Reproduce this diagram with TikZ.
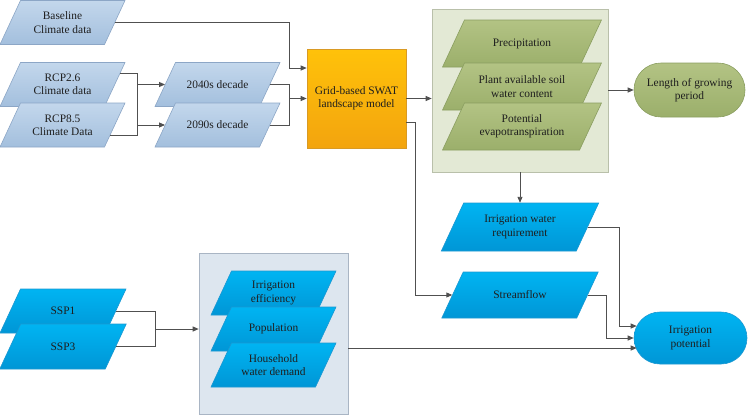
\documentclass[tikz,border=0pt]{standalone}
\usepackage{fontspec}
\setmainfont{Liberation Serif}
\newfontfamily\tnr{Liberation Serif}
\usetikzlibrary{arrows.meta,calc}
\definecolor{clT}{HTML}{C3D7EC}
\definecolor{clB}{HTML}{A3BFDD}
\definecolor{clD}{HTML}{8CA6C6}
\definecolor{blT}{HTML}{00B4F2}
\definecolor{blB}{HTML}{0096D6}
\definecolor{blD}{HTML}{1C98D2}
\definecolor{grT}{HTML}{B3C384}
\definecolor{grB}{HTML}{9BAF6B}
\definecolor{grD}{HTML}{8A9E60}
\definecolor{swT}{HTML}{FFC20A}
\definecolor{swB}{HTML}{F3A40E}
\definecolor{swD}{HTML}{D99A24}
\definecolor{gbox}{HTML}{E3E9D5}
\definecolor{gboxD}{HTML}{B9C0AA}
\definecolor{bbox}{HTML}{DDE6EF}
\definecolor{bboxD}{HTML}{A9B5C4}
\definecolor{lc}{HTML}{505050}
\definecolor{txt}{HTML}{1E1E1E}
% #1 fill style, #2 name, #3 cx, #4 cy, #5 body width, #6 height, #7 text
\newcommand\mkpara[7]{%
  \path[#1] ($(#3,#4)+({-#5/2-0.233*#6},{#6/2})$) -- ++(#5,0) -- ++({0.466*#6},{-#6}) -- ++(-#5,0) -- cycle;
  \node[lbl,rectangle,inner sep=0pt,minimum width=#5pt,minimum height=#6pt] (#2) at (#3,#4) {#7};}
\begin{document}
\begin{tikzpicture}[x=1pt,y=-1pt,
  lbl/.style={align=center,font=\tnr\fontsize{11.4}{13.3}\selectfont,text=txt},
  climate/.style={top color=clT,bottom color=clB,draw=clD,line width=0.6pt},
  bluefill/.style={top color=blT,bottom color=blB,draw=blD,line width=0.6pt},
  greenfill/.style={top color=grT,bottom color=grB,draw=grD,line width=0.6pt},
  container/.style={rectangle,line width=0.6pt},
  ln/.style={draw=lc,line width=0.9pt},
  arr/.style={ln,-{Triangle[length=6pt,width=5pt]}}]
\useasboundingbox (0,0) rectangle (748,416);

% containers
\node[container,fill=gbox,draw=gboxD,minimum width=176pt,minimum height=163pt] (green) at (520,90.5) {};
\node[container,fill=bbox,draw=bboxD,minimum width=149pt,minimum height=161pt] (bbox) at (273.5,333.5) {};

% climate inputs
\mkpara{climate}{base}{62.5}{22.5}{104.5}{44}{Baseline\\Climate data}
\mkpara{climate}{rcp26}{62.5}{84.5}{104.5}{44}{RCP2.6\\Climate data}
\mkpara{climate}{rcp85}{62.5}{125}{104.5}{44}{RCP8.5\\Climate Data}
\mkpara{climate}{d2040}{217.5}{84.5}{104.5}{44}{2040s decade}
\mkpara{climate}{d2090}{217.5}{125}{104.5}{44}{2090s decade}

% SWAT
\node[lbl,rectangle,top color=swT,bottom color=swB,draw=swD,line width=0.6pt,
  minimum width=99pt,minimum height=99pt] (swat) at (356.5,98.5) {Grid-based SWAT\\landscape model};

% green outputs
\mkpara{greenfill}{prec}{522}{43.5}{137}{47}{Precipitation}
\mkpara{greenfill}{paw}{522}{86.5}{137}{47}{Plant available soil\\water content}
\mkpara{greenfill}{pet}{522}{126.5}{137}{47}{Potential\\evapotranspiration}
\node[lbl,rectangle,rounded corners=27pt,top color=grT,bottom color=grB,draw=grD,line width=0.6pt,
  minimum width=111pt,minimum height=54pt] (lgp) at (689.5,90) {Length of growing\\period};

% blue items
\mkpara{bluefill}{iwr}{520}{227}{135}{48}{Irrigation water\\requirement}
\mkpara{bluefill}{stream}{520}{295}{135}{46}{Streamflow}
\node[lbl,rectangle,rounded corners=26pt,top color=blT,bottom color=blB,draw=blD,line width=0.6pt,
  minimum width=113pt,minimum height=52pt] (ipot) at (690.5,338) {Irrigation\\potential};

\mkpara{bluefill}{ssp1}{63}{311}{105.5}{44}{SSP1}
\mkpara{bluefill}{ssp3}{63}{346.5}{105.5}{45}{SSP3}

\mkpara{bluefill}{ieff}{273.5}{293}{104.5}{44}{Irrigation\\efficiency}
\mkpara{bluefill}{pop}{273.5}{329}{104.5}{44}{Population}
\mkpara{bluefill}{hh}{273.5}{365}{104.5}{44}{Household\\water demand}

% junction coordinates
\coordinate (jc) at (137,0);
\coordinate (jd) at (289,0);
\coordinate (jb) at (289,68);
\coordinate (js) at (415,0);
\coordinate (ji) at (619,0);
\coordinate (jt) at (606,0);
\coordinate (jp) at (155,0);
\coordinate (r1) at ($(rcp26.east)+(5.4,-11.5)$);
\coordinate (r2) at ($(rcp85.east)+(-4.7,10)$);
\coordinate (p1) at ($(ipot.west)+(3,-12)$);
\coordinate (p3) at ($(ipot.west)+(3,10)$);
\coordinate (sw2) at ($(swat.east)+(0,23.5)$);

% connectors
\draw[arr] (base.east) -| (jb) -- (jb -| swat.west);
\draw[ln] (r1) -| (jc |- r2) -- (r2);
\draw[arr] (jc |- d2040.west) -- (d2040.west);
\draw[arr] (jc |- d2090.west) -- (d2090.west);
\draw[ln] (d2040.east) -| (jd |- d2090.east) -- (d2090.east);
\draw[arr] (jd |- swat.west) -- (swat.west);
\draw[arr] (swat.east) -- (swat.east -| green.west);
\draw[arr] (green.east |- lgp.west) -- (lgp.west);
\draw[arr] (green.south) -- (green.south |- iwr.north);
\draw[arr] (sw2) -| (js |- stream.west) -- (stream.west);
\draw[arr] (iwr.east) -| (ji |- p1) -- (p1);
\draw[arr] (stream.east) -| (jt |- ipot.west) -- (ipot.west);
\draw[arr] (bbox.east |- p3) -- (p3);
\draw[ln] (ssp1.east) -| (jp |- ssp3.east) -- (ssp3.east);
\draw[arr] (jp |- pop.west) -- (bbox.west |- pop.west);
\end{tikzpicture}
\end{document}
